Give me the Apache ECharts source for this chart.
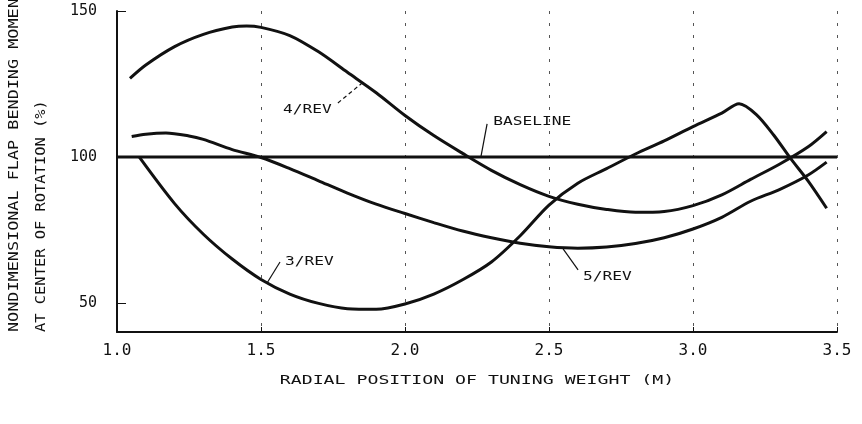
<!DOCTYPE html>
<html>
<head>
<meta charset="utf-8">
<script src="https://cdn.jsdelivr.net/npm/echarts@6/dist/echarts.min.js"></script>
<style>
  html, body { margin: 0; padding: 0; background: #fff; }
  #chart { width: 862px; height: 424px; }
</style>
</head>
<body>
<div id="chart"></div>
<script>
// Tick positions
const xTicks = [1.0, 1.5, 2.0, 2.5, 3.0, 3.5];
const yTicks = [50, 100, 150];

// Flap bending moment (% of baseline) vs. radial position of tuning weight (m)
const rev4 = [
  [1.045, 126.9], [1.1, 131.5], [1.2, 137.8], [1.3, 142.0], [1.4, 144.5], [1.45, 144.9],
  [1.5, 144.4], [1.6, 141.6], [1.7, 136.0], [1.8, 129.0], [1.9, 122.0], [2.0, 114.2],
  [2.1, 107.3], [2.2, 101.2], [2.3, 95.4], [2.4, 90.5], [2.5, 86.5], [2.6, 83.8],
  [2.7, 82.0], [2.8, 81.0], [2.9, 81.3], [3.0, 83.3], [3.1, 87.0], [3.2, 92.3],
  [3.3, 97.5], [3.4, 103.5], [3.464, 108.7]
];
const rev3 = [
  [1.077, 100.0], [1.2, 84.0], [1.3, 73.5], [1.4, 65.0], [1.5, 58.0], [1.6, 53.0],
  [1.7, 49.8], [1.8, 48.0], [1.9, 47.8], [2.0, 49.6], [2.1, 53.0], [2.2, 57.9],
  [2.3, 64.0], [2.4, 73.0], [2.5, 83.5], [2.6, 91.0], [2.7, 96.0], [2.8, 101.0],
  [2.9, 105.5], [3.0, 110.4], [3.1, 115.0], [3.16, 118.2], [3.22, 114.5],
  [3.28, 107.5], [3.34, 99.3], [3.4, 91.7], [3.464, 82.4]
];
const rev5 = [
  [1.051, 107.0], [1.1, 107.8], [1.17, 108.2], [1.25, 107.2], [1.3, 106.0], [1.4, 102.5],
  [1.5, 99.8], [1.6, 96.0], [1.7, 91.8], [1.8, 87.6], [1.9, 83.8], [2.0, 80.6],
  [2.1, 77.5], [2.2, 74.6], [2.3, 72.3], [2.4, 70.4], [2.5, 69.2], [2.6, 68.7],
  [2.7, 69.1], [2.8, 70.3], [2.9, 72.3], [3.0, 75.3], [3.1, 79.3], [3.2, 84.8],
  [3.3, 88.8], [3.4, 93.8], [3.464, 98.2]
];
const baseline = [[1.0, 100], [3.5, 100]];

// Curve labels: text anchor and leader line, in data units
const curveLabels = [
  { text: '4/REV',    at: [1.576, 116.1], from: [1.767, 118.5], to: [1.851, 125.3], dashed: true },
  { text: 'BASELINE', at: [2.306, 112.0], from: [2.285, 111.3], to: [2.264, 100.3], dashed: false },
  { text: '3/REV',    at: [1.583, 64.0],  from: [1.566, 64.0],  to: [1.521, 56.8],  dashed: false },
  { text: '5/REV',    at: [2.618, 58.9],  from: [2.601, 61.3],  to: [2.549, 68.5],  dashed: false }
];

const yTitle = ['NONDIMENSIONAL FLAP BENDING MOMENT', 'AT CENTER OF ROTATION (%)'];
const xTitle = 'RADIAL POSITION OF TUNING WEIGHT (M)';

const MONO = '"DejaVu Sans Mono", monospace';
const INK = '#111';

const chart = echarts.init(document.getElementById('chart'), null, { renderer: 'canvas' });

function curve(name, data, width) {
  return {
    name, type: 'line', data,
    smooth: 0.3,
    symbol: 'none', silent: true,
    lineStyle: { color: INK, width: width || 3 },
    z: 3
  };
}

chart.setOption({
  animation: false,
  backgroundColor: '#fff',
  grid: { left: 117, right: 25, top: 11, bottom: 92, containLabel: false },
  xAxis: {
    type: 'value', min: 1.0, max: 3.5, interval: 0.5,
    axisLine: { show: true, lineStyle: { color: INK, width: 2 } },
    axisTick: { show: true, inside: true, length: 5, lineStyle: { color: INK, width: 1 } },
    axisLabel: {
      margin: 11, color: INK, fontFamily: MONO, fontSize: 16,
      formatter: v => v.toFixed(1)
    },
    splitLine: {
      show: true, showMinLine: false,
      lineStyle: { color: '#555', width: 1, type: [3, 9] }
    }
  },
  yAxis: {
    type: 'value', min: 40, max: 150,
    axisLine: { show: true, lineStyle: { color: INK, width: 2 } },
    axisTick: { show: true, inside: true, length: 9, customValues: yTicks, lineStyle: { color: INK, width: 1 } },
    axisLabel: { customValues: yTicks, margin: 20, color: INK, fontFamily: MONO, fontSize: 15 },
    splitLine: { show: false }
  },
  series: [
    curve('BASELINE', baseline, 3),
    curve('4/REV', rev4),
    curve('3/REV', rev3),
    curve('5/REV', rev5)
  ]
});

// Annotation text and axis titles, placed through the chart's coordinate conversion
const px = p => chart.convertToPixel({ gridIndex: 0 }, p);
const graphics = [];
curveLabels.forEach(l => {
  const a = px(l.at), f = px(l.from), t = px(l.to);
  graphics.push({
    type: 'text', x: a[0], y: a[1], scaleX: 1.35, silent: true,
    style: { text: l.text, fill: INK, font: '12px ' + MONO, textAlign: 'left', textVerticalAlign: 'middle' }
  });
  graphics.push({
    type: 'line', silent: true,
    shape: { x1: f[0], y1: f[1], x2: t[0], y2: t[1] },
    style: { stroke: INK, lineWidth: 1.2, lineDash: l.dashed ? [4, 3] : null }
  });
});

const xMid = (px([1.0, 40])[0] + px([3.5, 40])[0]) / 2;
graphics.push({
  type: 'text', x: xMid, y: 381, scaleX: 1.4, silent: true,
  style: { text: xTitle, fill: INK, font: '13px ' + MONO, textAlign: 'center', textVerticalAlign: 'middle' }
});
graphics.push({
  type: 'text', x: 14, y: 332, rotation: Math.PI / 2, scaleX: 1.2, silent: true,
  style: { text: yTitle[0], fill: INK, font: '14px ' + MONO, textAlign: 'left', textVerticalAlign: 'middle' }
});
graphics.push({
  type: 'text', x: 41, y: 332, rotation: Math.PI / 2, scaleX: 1.1, silent: true,
  style: { text: yTitle[1], fill: INK, font: '14px ' + MONO, textAlign: 'left', textVerticalAlign: 'middle' }
});

chart.setOption({ graphic: graphics });
</script>
</body>
</html>
